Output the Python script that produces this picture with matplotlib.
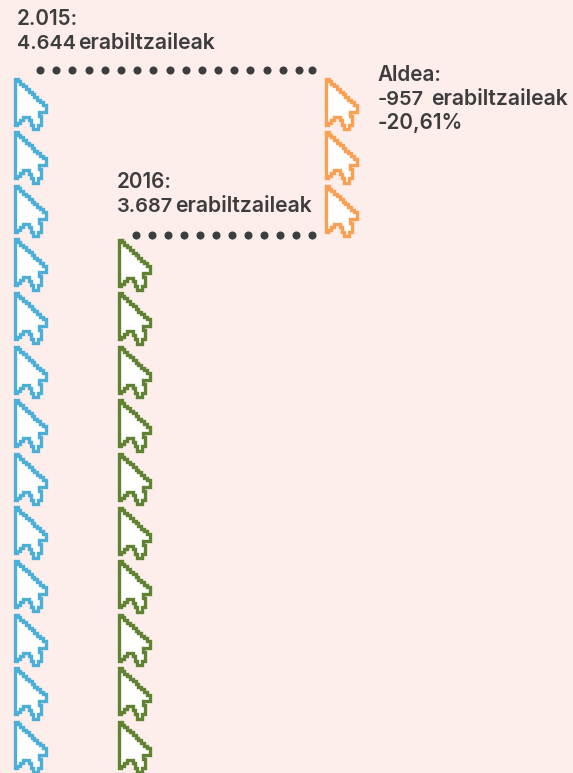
#!/usr/bin/env python3
import numpy as np
import matplotlib
matplotlib.use('Agg')
import matplotlib.pyplot as plt
from matplotlib.patches import PathPatch
from matplotlib.path import Path

W, H = 573, 773
BG = '#fdeeec'
INK = '#3d3d3d'

# one cursor = 1 unit of the pictogram
cols = ['2015', '2016', 'aldea']
counts = [13, 10, 3]
col_x = [14.7, 118.7, 325.7]
col_y = [78.5, 239.5, 78.5]
colors = ['#4bafd8', '#5f8233', '#f9a052']
row_step = [53.6, 53.6, 53.7]

dots_top = list(np.linspace(40, 299, 17)) + [312]
dots_low = list(np.linspace(136, 296, 11)) + [312]

labels = [(17, 25, '2.015:', 14.9), (17, 49, '4.644', 14.4), (78, 49, 'erabiltzaileak', 15.3),
          (117, 188, '2016:', 14.9), (117, 212, '3.687', 14.4), (175, 212, 'erabiltzaileak', 15.3),
          (378, 81, 'Aldea:', 14.9), (378, 105, '-957', 14.4), (431, 105, 'erabiltzaileak', 15.3),
          (378, 129, '-20,61%', 14.9)]


def cursor_path(x0, y0):
    # stair stepped diagonal, like the pixel arrow
    pts = [(0, 0)]
    n = 11
    for i in range(n):
        pts.append(((i + 1) * 31 / n, i * 29 / n))
        pts.append(((i + 1) * 31 / n, (i + 1) * 29 / n))
    pts += [(31, 33), (24, 33), (24, 37), (26.5, 37), (26.5, 46), (23, 46), (23, 50.5),
            (18.5, 50.5), (18.5, 46), (16, 46), (16, 41.5), (14, 41.5), (14, 38),
            (8, 38), (8, 41), (5, 41), (5, 44), (2.5, 44), (2.5, 46), (0, 46), (0, 0)]
    return Path(np.array(pts, dtype=float) + [x0, y0], closed=True)


fig = plt.figure(figsize=(W / 100, H / 100), dpi=100, facecolor=BG)
ax = fig.add_axes([0, 0, 1, 1])
ax.set_xlim(0, W)
ax.set_ylim(H, 0)
ax.axis('off')

for c, n, x, y, col, step in zip(cols, counts, col_x, col_y, colors, row_step):
    for i in range(n):
        ax.add_patch(PathPatch(cursor_path(x, y + i * step), fc='white', ec=col,
                               lw=2.4, joinstyle='miter', clip_on=True))

ax.plot(dots_top, [69.5] * len(dots_top), 'o', color=INK, ms=5.8, mew=0)
ax.plot(dots_low, [234.5] * len(dots_low), 'o', color=INK, ms=5.8, mew=0)

for x, y, s, size in labels:
    ax.text(x, y, s, family='Inter', weight='semibold', fontsize=size, color=INK,
            ha='left', va='baseline')

fig.savefig('out.png', dpi=100, facecolor=BG)
